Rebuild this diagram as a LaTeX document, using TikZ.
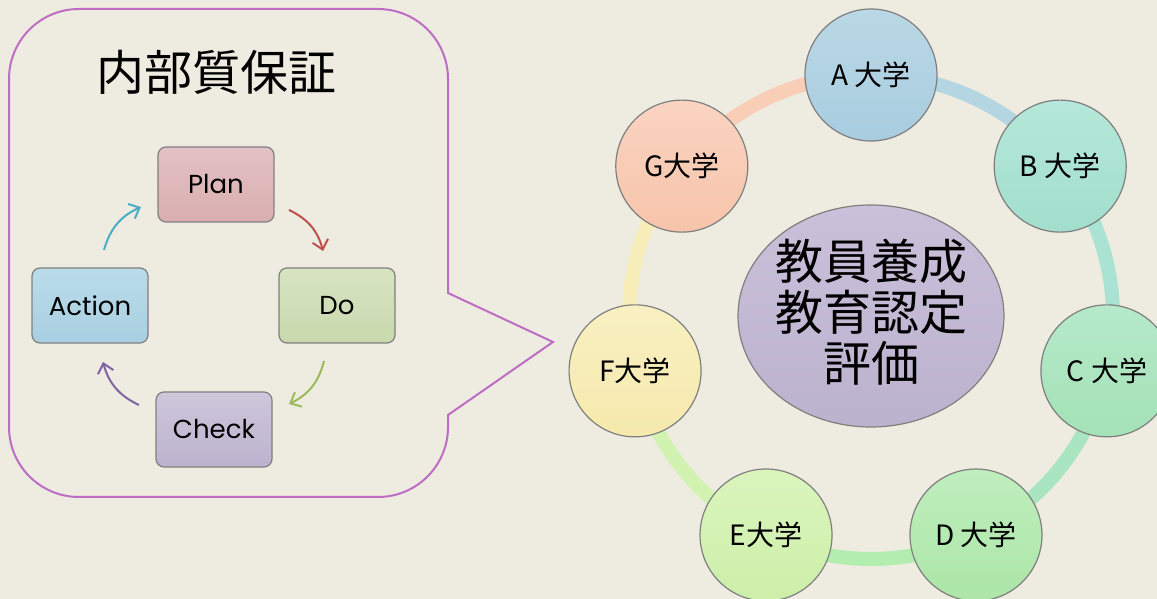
\documentclass[tikz,border=0pt]{standalone}
\usepackage{fontspec}
\setmainfont{Poppins}
\newfontfamily\cjk{Noto Sans CJK JP}
\usetikzlibrary{arrows.meta,shapes.geometric,calc}
\definecolor{bgc}{HTML}{EEECE1}
\definecolor{callc}{HTML}{BE6DC4}
\definecolor{bordc}{HTML}{7F7F7F}
\definecolor{acyan}{HTML}{4BACC6}
\definecolor{ared}{HTML}{C0504D}
\definecolor{agreen}{HTML}{9BBB59}
\definecolor{apurple}{HTML}{8064A2}
\definecolor{planT}{HTML}{E3C1C4}\definecolor{planB}{HTML}{D9AEB0}
\definecolor{doT}{HTML}{D8E4C3}\definecolor{doB}{HTML}{C8D9AC}
\definecolor{actT}{HTML}{BADCE9}\definecolor{actB}{HTML}{A8CFE2}
\definecolor{chkT}{HTML}{CEC7DB}\definecolor{chkB}{HTML}{BCB2CE}
\definecolor{ringA}{HTML}{B4D5E2}
\definecolor{ringB}{HTML}{AAE3D3}
\definecolor{ringC}{HTML}{A8E5C0}
\definecolor{ringD}{HTML}{B4EDB0}
\definecolor{ringE}{HTML}{D2F2B2}
\definecolor{ringF}{HTML}{F6EDB8}
\definecolor{ringG}{HTML}{F9CEB7}
\definecolor{uaT}{HTML}{BAD8E5}\definecolor{uaB}{HTML}{A8CDE0}
\definecolor{ubT}{HTML}{B5E8DA}\definecolor{ubB}{HTML}{A2DECC}
\definecolor{ucT}{HTML}{B5E9CA}\definecolor{ucB}{HTML}{A4E2B6}
\definecolor{udT}{HTML}{BFEEBD}\definecolor{udB}{HTML}{ACE6A7}
\definecolor{ueT}{HTML}{DBF5BD}\definecolor{ueB}{HTML}{CCEFA9}
\definecolor{ufT}{HTML}{F9F0C2}\definecolor{ufB}{HTML}{F5E9AC}
\definecolor{ugT}{HTML}{FAD4C2}\definecolor{ugB}{HTML}{F7C4AA}
\definecolor{hubT}{HTML}{CAC0DA}\definecolor{hubB}{HTML}{BBB2CE}
\tikzset{
  x=1pt,y=1pt,
  pbox/.style={draw=bordc,line width=1.2pt,rounded corners=8pt,minimum width=116pt,minimum height=75pt,inner sep=0pt,font=\fontsize{26}{30}\selectfont},
  cyc/.style={line width=2pt,-{Straight Barb[length=9pt,width=16pt,line width=2pt]},bend left=25},
  uni/.style={circle,draw=bordc,line width=1.2pt,minimum size=132pt,inner sep=0pt,font=\cjk\fontsize{28}{32}\selectfont},
  ring/.style={line width=14pt,line cap=butt},
}
\begin{document}
\begin{tikzpicture}
\fill[bgc] (0,0) rectangle (1157,599);
\useasboundingbox (0,0) rectangle (1157,599);
% callout
\draw[callc,line width=2pt,fill=bgc] (9,172) -- (9,520) arc[start angle=180,end angle=90,radius=70]
  -- (378,590) arc[start angle=90,end angle=0,radius=70]
  -- (448,306) -- (553,257) -- (448,184) -- (448,172)
  arc[start angle=0,end angle=-90,radius=70] -- (79,102)
  arc[start angle=270,end angle=180,radius=70] -- cycle;
\node[font=\cjk\fontsize{48}{52}\selectfont] (title) at (216,527) {内部質保証};
% PDCA boxes
\node[pbox,top color=planT,bottom color=planB] (plan) at (216,414.5) {Plan};
\node[pbox,top color=doT,bottom color=doB] (do) at (337,293.5) {Do};
\node[pbox,top color=actT,bottom color=actB] (act) at (90,293.5) {Action};
\node[pbox,top color=chkT,bottom color=chkB] (chk) at (214,169.5) {Check};
\coordinate (c1) at (104,349); \coordinate (c2) at (141,392);
\coordinate (r1) at (289,389); \coordinate (r2) at (323,348);
\coordinate (g1) at (324,238); \coordinate (g2) at (289,195);
\coordinate (p1) at (139,194); \coordinate (p2) at (103,237);
\draw[cyc,acyan] (c1) to (c2);
\draw[cyc,ared] (r1) to (r2);
\draw[cyc,agreen] (g1) to (g2);
\draw[cyc,apurple] (p1) to (p2);
% ring
\coordinate (ctr) at (871,282);
\draw[ring,ringA] (ctr) ++(90:242) arc[start angle=90,end angle=38.57,radius=242];
\draw[ring,ringB] (ctr) ++(38.57:242) arc[start angle=38.57,end angle=-12.86,radius=242];
\draw[ring,ringC] (ctr) ++(-12.86:242) arc[start angle=-12.86,end angle=-64.29,radius=242];
\draw[ring,ringD] (ctr) ++(-64.29:242) arc[start angle=-64.29,end angle=-115.71,radius=242];
\draw[ring,ringE] (ctr) ++(-115.71:242) arc[start angle=-115.71,end angle=-167.14,radius=242];
\draw[ring,ringF] (ctr) ++(-167.14:242) arc[start angle=-167.14,end angle=-218.57,radius=242];
\draw[ring,ringG] (ctr) ++(141.43:242) arc[start angle=141.43,end angle=90,radius=242];
% center ellipse
\node[ellipse,draw=bordc,line width=1.2pt,minimum width=266pt,minimum height=222pt,inner sep=0pt,
  top color=hubT,bottom color=hubB] (hub) at (871,283) {};
\node[align=center,font=\cjk\fontsize{48}{51}\selectfont] (hubtxt) at ($(hub.center)+(0,4)$) {教員養成\\教育認定\\評価};
% universities
\node[uni,top color=uaT,bottom color=uaB] (ua) at ($(ctr)+(90:242)$) {A 大学};
\node[uni,top color=ubT,bottom color=ubB] (ub) at ($(ctr)+(38.57:242)$) {B 大学};
\node[uni,top color=ucT,bottom color=ucB] (uc) at ($(ctr)+(-12.86:242)$) {C 大学};
\node[uni,top color=udT,bottom color=udB] (ud) at ($(ctr)+(-64.29:242)$) {D 大学};
\node[uni,top color=ueT,bottom color=ueB] (ue) at ($(ctr)+(-115.71:242)$) {E大学};
\node[uni,top color=ufT,bottom color=ufB] (uf) at ($(ctr)+(-167.14:242)$) {F大学};
\node[uni,top color=ugT,bottom color=ugB] (ug) at ($(ctr)+(141.43:242)$) {G大学};
\end{tikzpicture}
\end{document}
